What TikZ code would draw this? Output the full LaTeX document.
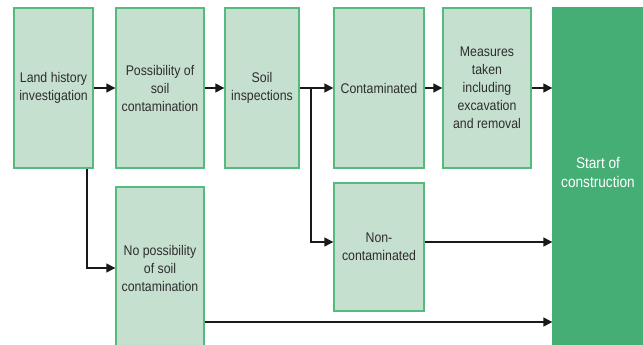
\documentclass[tikz,border=0pt]{standalone}
\usepackage{fontspec}
\setmainfont{Liberation Sans}[FakeStretch=0.88]
\usetikzlibrary{arrows.meta}
\definecolor{boxfill}{RGB}{198,224,207}
\definecolor{boxline}{RGB}{84,186,126}
\definecolor{startfill}{RGB}{69,174,116}
\definecolor{txt}{RGB}{45,45,45}
\definecolor{arrcol}{RGB}{25,25,25}
\tikzset{
  box/.style={draw=boxline, fill=boxfill, line width=1.4pt, inner sep=0pt,
    text=txt, align=center, font=\fontsize{14}{18}\selectfont},
  startbox/.style={draw=startfill, fill=startfill, line width=1.4pt, inner sep=0pt},
  starttext/.style={text=white, align=center, font=\fontsize{15.5}{19}\selectfont},
  arr/.style={draw=arrcol, line width=1.4pt, -{Triangle[length=9pt,width=9pt]}},
  ln/.style={draw=arrcol, line width=1.4pt}
}
\begin{document}
\begin{tikzpicture}[x=1pt,y=-1pt]
\useasboundingbox (0,0) rectangle (643,345);
\node[box, minimum width=79pt, minimum height=160pt] (b1) at (53.5,88) {Land history\\investigation};
\node[box, minimum width=88pt, minimum height=160pt] (b2) at (160,88) {Possibility of\\soil\\contamination};
\node[box, minimum width=74pt, minimum height=160pt] (b3) at (262,88) {Soil\\inspections};
\node[box, minimum width=90pt, minimum height=160pt] (b4) at (379,88) {Contaminated};
\node[box, minimum width=88pt, minimum height=160pt] (b5) at (487,88) {Measures\\taken\\including\\excavation\\and removal};
\node[startbox, minimum width=92pt, minimum height=342pt] (st) at (599,179) {};
\node[starttext] (stl) at (598,172) {Start of\\construction};
\node[box, minimum width=88pt, minimum height=162pt] (np) at (160,268) {No possibility\\of soil\\contamination};
\node[box, minimum width=90pt, minimum height=128pt] (nc) at (379,247) {Non-\\contaminated};
\coordinate (br) at (311,88);
\coordinate (ya) at (0,322);
\draw[arr] (b1) -- (b2);
\draw[arr] (b2) -- (b3);
\draw[arr] (b3) -- (b4);
\draw[arr] (b4) -- (b5);
\draw[arr] (b5.east) -- (b5.east -| st.west);
\draw[arr] (br) |- ([yshift=5pt]nc.west);
\draw[arr] ([xshift=33.5pt]b1.south) |- (np.west);
\draw[arr] ([yshift=5pt]nc.east) -- ([yshift=5pt]nc.east -| st.west);
\draw[arr] (ya -| np.east) -- (ya -| st.west);
\end{tikzpicture}
\end{document}
